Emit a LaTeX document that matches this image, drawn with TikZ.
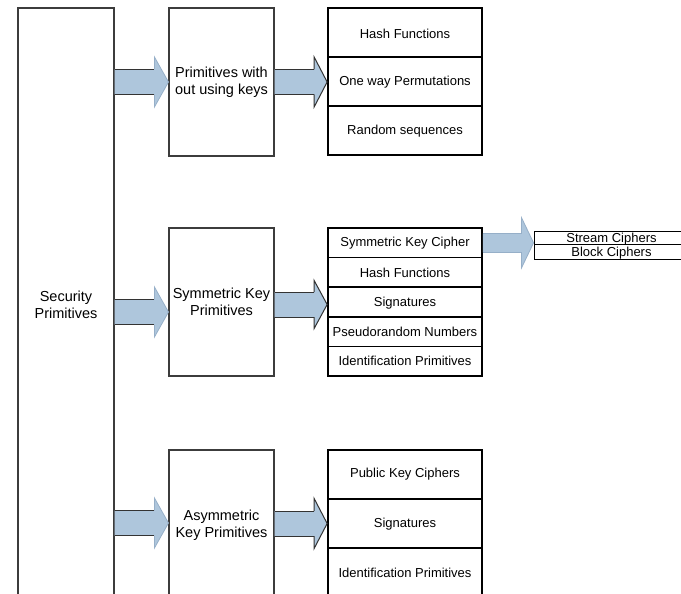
\documentclass[tikz,border=0pt]{standalone}
\usepackage{fontspec}
\setmainfont{Liberation Sans}
\usetikzlibrary{calc}
\definecolor{arrowblue}{RGB}{174,198,220}
\definecolor{arrowedge}{RGB}{150,175,200}
\definecolor{boxgray}{RGB}{60,60,60}
\newcommand\lowered[2]{\raisebox{-#1}[\height][\depth]{#2}}
\tikzset{
  outerbox/.style={draw=boxgray, line width=1.1pt, inner sep=0pt, align=center,
    font=\fontsize{14.5}{17}\selectfont},
  itembox/.style={draw=black, line width=1.7pt, inner sep=0pt, align=center,
    minimum width=154pt, font=\fontsize{13}{15}\selectfont},
  thinbox/.style={draw=black, line width=0.9pt, inner sep=0pt, align=center,
    minimum width=155pt, font=\fontsize{13}{13}\selectfont},
  darkedge/.style={draw=black!80, line width=1pt},
  lightedge/.style={draw=arrowedge, line width=0.8pt},
}
% block arrow: #1 base point, #2 tip point, #3 shaft half width, #4 head half width,
% #5 head length, #6 style of the shaft edges, #7 style of the head edges
\newcommand\blockarrow[7]{%
  \fill[arrowblue] let \p1=#1, \p2=#2 in
    (\x1,\y2+#3) -- (\x2-#5,\y2+#3) -- (\x2-#5,\y2+#4) -- (\x2,\y2)
    -- (\x2-#5,\y2-#4) -- (\x2-#5,\y2-#3) -- (\x1,\y2-#3) -- cycle;
  \draw[#6] let \p1=#1, \p2=#2 in
    (\x1,\y2+#3) -- (\x2-#5,\y2+#3) (\x1,\y2-#3) -- (\x2-#5,\y2-#3);
  \draw[#7] let \p1=#1, \p2=#2 in
    (\x2-#5,\y2+#3) -- (\x2-#5,\y2+#4) -- (\x2,\y2)
    -- (\x2-#5,\y2-#4) -- (\x2-#5,\y2-#3);
}
\begin{document}
\begin{tikzpicture}[x=1pt,y=-1pt]
\useasboundingbox (0,0) rectangle (681,594);
\clip (0,0) rectangle (681,594);
\fill[white] (0,0) rectangle (681,594);

% root column
\node[outerbox, minimum width=96pt, minimum height=594pt] (sec) at (66,305)
  {Security\\Primitives};

% second column
\node[outerbox, minimum width=105pt, minimum height=148pt] (m1) at (221.5,82)
  {Primitives with\\out using keys};
\node[outerbox, minimum width=105pt, minimum height=148pt] (m2) at (221.5,302)
  {Symmetric Key\\Primitives};
\node[outerbox, minimum width=105pt, minimum height=150pt] (m3) at (221.5,525)
  {Asymmetric\\Key Primitives};

% keyless primitives
\node[itembox, minimum height=49pt] (r1a) at (405,32.5) {\lowered{1pt}{Hash Functions}};
\node[itembox, minimum height=49pt] (r1b) at (405,81.5) {\lowered{1pt}{One way Permutations}};
\node[itembox, minimum height=49pt] (r1c) at (405,130.5) {\lowered{1pt}{Random sequences}};

% symmetric key primitives
\node[itembox, minimum height=29.6pt] (r2a) at (405,242.8) {Symmetric Key Cipher};
\node[itembox, minimum height=29.6pt] (r2b) at (405,272.4) {Hash Functions};
\node[itembox, minimum height=29.6pt] (r2c) at (405,302) {\lowered{1.5pt}{Signatures}};
\node[itembox, minimum height=29.6pt] (r2d) at (405,331.6) {Pseudorandom Numbers};
\node[itembox, minimum height=29.6pt] (r2e) at (405,361.2) {Identification Primitives};

% asymmetric key primitives
\node[itembox, minimum height=49pt] (r3a) at (405,474.5) {Public Key Ciphers};
\node[itembox, minimum height=49pt] (r3b) at (405,523.5) {\lowered{1pt}{Signatures}};
\node[itembox, minimum height=49pt] (r3c) at (405,572.5) {Identification Primitives};

% cipher kinds
\node[thinbox, minimum height=13pt] (sc) at (611.5,237.5) {\lowered{2pt}{Stream Ciphers}};
\node[thinbox, minimum height=15pt] (bc) at (611.5,251.5) {\lowered{2pt}{Block Ciphers}};

% arrows from the root column
\blockarrow{(sec.east)}{(m1.west)}{12.5pt}{25pt}{14pt}{darkedge}{lightedge}
\blockarrow{(sec.east)}{([yshift=-10pt]m2.west)}{12.5pt}{25pt}{14pt}{darkedge}{lightedge}
\blockarrow{(sec.east)}{([yshift=2pt]m3.west)}{12.5pt}{25pt}{14pt}{darkedge}{lightedge}

% arrows into the lists
\blockarrow{(m1.east)}{(m1.east -| r1b.west)}{12.5pt}{25pt}{13pt}{darkedge}{darkedge}
\blockarrow{(m2.east)}{([yshift=-2.5pt]r2c.west)}{12.5pt}{24pt}{13pt}{darkedge}{darkedge}
\blockarrow{(m3.east)}{(r3b.west)}{12.5pt}{25pt}{13pt}{darkedge}{darkedge}

% cipher arrow
\blockarrow{(r2a.east)}{(r2a.east -| sc.west)}{9.5pt}{25pt}{12pt}{lightedge}{lightedge}
\end{tikzpicture}
\end{document}
